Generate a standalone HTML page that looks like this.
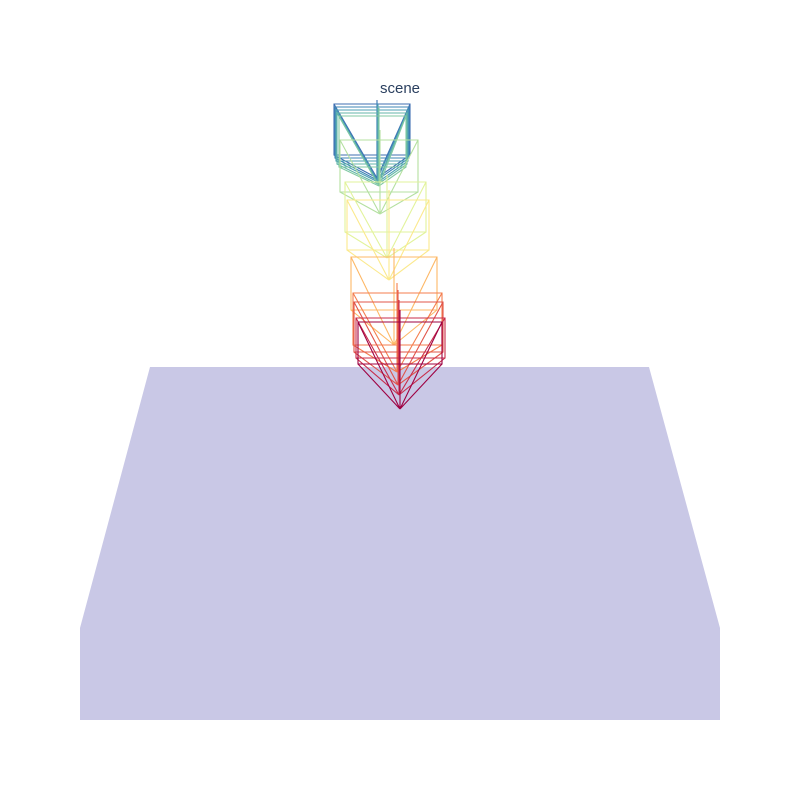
<!DOCTYPE html>
<html><head><meta charset="utf-8"><style>
body{margin:0;background:#fff}
svg{display:block}
</style></head><body>
<svg id="chart" width="800" height="800" viewBox="0 0 800 800">
<text x="400" y="93" text-anchor="middle" font-family="Liberation Sans, sans-serif" font-size="15" fill="#2a3f5f">scene</text>
<polygon points="150,367 649,367 720,628 720,720 80,720 80,628" fill="#c9c8e6"/>
<g id="frustums"></g>
</svg>
<script>
// per-camera screen-space projected frustum parameters
const rectLeft   = [334,335,336,337,339,340,345,347,351,353,354,356,358];
const rectRight  = [410,409,408,407,406,418,426,429,437,442,443,445,442];
const rectTop    = [104,107,110,113,116,140,182,200,257,293,302,318,322];
const rectBottom = [155,158,161,164,167,192,232,250,310,345,352,358,364];
const apexX      = [377,377,378,378,379,380,387,389,394,397,398,399,400];
const apexY      = [178,180,182,184,186,214,258,280,345,372,385,395,409];
const upY        = [100,102,104,106,108,130,175,190,248,283,290,300,310];
const colors = ['#3f6fb2','#3d85b6','#4d9fb3','#63b6a8','#80c8a3','#b4e0a0','#e2f39b','#fbe98d','#fdb867','#f47e4e','#e1544a','#c82d4b','#9e0142'];
const g = document.getElementById('frustums');
const NS = 'http://www.w3.org/2000/svg';
for (let i = 0; i < colors.length; i++) {
  const L = rectLeft[i], R = rectRight[i], T = rectTop[i], B = rectBottom[i], ax = apexX[i], ay = apexY[i];
  const d = `M${L},${T}L${R},${T}L${R},${B}L${L},${B}Z M${ax},${ay}L${L},${T} M${ax},${ay}L${R},${T} M${ax},${ay}L${R},${B} M${ax},${ay}L${L},${B} M${ax},${ay}L${ax},${upY[i]}`;
  const p = document.createElementNS(NS, 'path');
  p.setAttribute('d', d);
  p.setAttribute('fill', 'none');
  p.setAttribute('stroke', colors[i]);
  p.setAttribute('stroke-width', '1.1');
  
  
  g.appendChild(p);
}
</script>
</body></html>
